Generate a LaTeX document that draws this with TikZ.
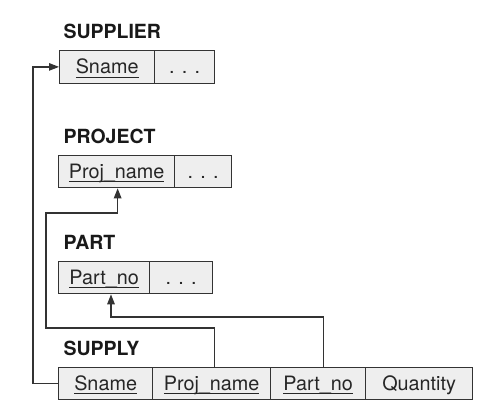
\documentclass[tikz,border=0pt]{standalone}
\usepackage{fontspec}
\setmainfont{TeX Gyre Heros}
\usetikzlibrary{arrows.meta}
\newcommand\keyul[1]{\setbox0\hbox{#1}\rlap{\rule[-3.8pt]{\wd0}{1pt}}\box0}
\begin{document}
\begin{tikzpicture}[x=1pt,y=-1pt,
  cell/.style={draw=black!80, line width=1.3pt, fill=gray!13, anchor=north west,
    minimum height=32.5pt, inner sep=0pt, text height=17pt, text depth=3pt,
    font=\fontsize{19.8}{22}\selectfont, text=black!85},
  rel/.style={anchor=base west, font=\fontsize{19.5}{22}\selectfont\bfseries, text=black!90},
  link/.style={draw=black!80, line width=1.3pt},
  arr/.style={link, -{Triangle[length=10pt,width=7.5pt]}}]
\useasboundingbox (0,0) rectangle (500,412);
% SUPPLIER
\node[rel] (lsup) at (60,38) {SUPPLIER};
\node[cell, minimum width=95pt] (s1) at (59,50) {\keyul{Sname}};
\node[cell, minimum width=60pt] (s2) at (154,50) {. . .};
% PROJECT
\node[rel] (lproj) at (60,143) {PROJECT};
\node[cell, minimum width=116pt] (p1) at (58,154.5) {\keyul{Proj\_name}};
\node[cell, minimum width=57pt] (p2) at (174,154.5) {. . .};
% PART
\node[rel] (lpart) at (60,249) {PART};
\node[cell, minimum width=91pt] (a1) at (58,260.5) {\keyul{Part\_no}};
\node[cell, minimum width=63pt] (a2) at (149,260.5) {. . .};
% SUPPLY
\node[rel] (lsupply) at (60,355) {SUPPLY};
\node[cell, minimum width=94pt] (y1) at (58,366.5) {\keyul{Sname}};
\node[cell, minimum width=118pt] (y2) at (152,366.5) {\keyul{Proj\_name}};
\node[cell, minimum width=95pt] (y3) at (270,366.5) {\keyul{Part\_no}};
\node[cell, minimum width=107pt] (y4) at (365,366.5) {Quantity};
% connectors
\coordinate (c1) at (46,328);
\coordinate (c2) at (46,213);
\coordinate (c3) at (111,317);
\draw[arr] (y1.west) -- ++(-25,0) |- (s1.west);
\draw[arr] ([xshift=2.5pt]y2.north) |- (c1) -- (c2) -| ([xshift=1pt]p1.south);
\draw[arr] ([xshift=5.5pt]y3.north) |- (c3) -- (c3 |- a1.south);
\end{tikzpicture}
\end{document}
